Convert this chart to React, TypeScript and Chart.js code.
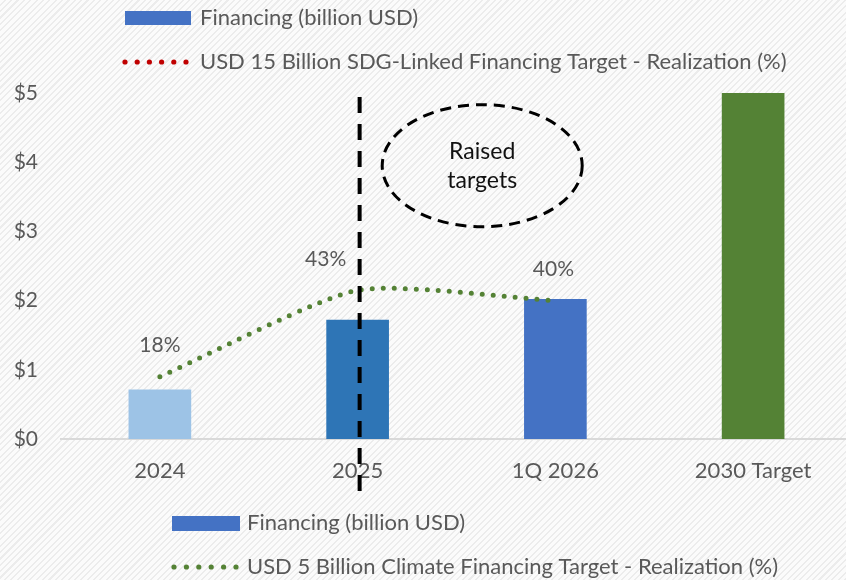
import React, { useEffect, useRef } from "react";
import { Chart, registerables } from "chart.js";

Chart.register(...registerables);

const categories = ["2024", "2025", "1Q 2026", "2030 Target"];
const financing = [0.71, 1.72, 2.02, 5.0];
const barColors = ["#9DC3E6", "#2E75B6", "#4472C4", "#548235"];
const realization = [18, 43, 40];
const realizationLabels = ["18%", "43%", "40%"];
const yTicks = [0, 1, 2, 3, 4, 5];
const legendTop = ["Financing (billion USD)", "USD 15 Billion SDG-Linked Financing Target - Realization (%)"];
const legendBottom = ["Financing (billion USD)", "USD 5 Billion Climate Financing Target - Realization (%)"];
const noteLines = ["Raised", "targets"];

const FONT = "Lato, 'Open Sans', sans-serif";
const TEXT = "#595959";

function dotRow(ctx: CanvasRenderingContext2D, x0: number, x1: number, y: number, color: string) {
  ctx.fillStyle = color;
  const n = 6;
  for (let i = 0; i < n; i++) {
    const x = x0 + ((x1 - x0) * i) / (n - 1);
    ctx.beginPath();
    ctx.arc(x, y, 2.6, 0, Math.PI * 2);
    ctx.fill();
  }
}

const overlayPlugin = {
  id: "overlay",
  afterDatasetsDraw(chart: any) {
    const ctx: CanvasRenderingContext2D = chart.ctx;
    const xs = chart.scales.x;
    const ys = chart.scales.y;
    ctx.save();
    // data labels
    const meta = chart.getDatasetMeta(1);
    const offs = [[0, -31], [-32, -31], [-2, -31]];
    ctx.font = `21px ${FONT}`;
    ctx.fillStyle = TEXT;
    ctx.textAlign = "center";
    ctx.textBaseline = "middle";
    meta.data.forEach((p: any, i: number) => {
      ctx.fillText(realizationLabels[i], p.x + offs[i][0], p.y + offs[i][1]);
    });
    // vertical dashed line at 2025
    const vx = xs.getPixelForValue(1) + 2;
    ctx.strokeStyle = "#000";
    ctx.lineWidth = 4;
    ctx.setLineDash([16, 11]);
    ctx.beginPath();
    ctx.moveTo(vx, 97);
    ctx.lineTo(vx, 494);
    ctx.stroke();
    // ellipse
    const ex = xs.getPixelForValue(1.63);
    const ey = ys.getPixelForValue(3.95);
    ctx.lineWidth = 3;
    ctx.setLineDash([11, 7]);
    ctx.beginPath();
    ctx.ellipse(ex, ey, 100, 61, 0, 0, Math.PI * 2);
    ctx.stroke();
    ctx.setLineDash([]);
    ctx.fillStyle = "#111";
    ctx.font = `23px ${FONT}`;
    ctx.fillText(noteLines[0], ex, ey - 14);
    ctx.fillText(noteLines[1], ex, ey + 15);
    // legends
    ctx.font = `22px ${FONT}`;
    ctx.textAlign = "left";
    ctx.fillStyle = "#4472C4";
    ctx.fillRect(125, 11, 66, 14);
    ctx.fillStyle = TEXT;
    ctx.fillText(legendTop[0], 200, 18);
    dotRow(ctx, 125, 186, 62, "#C00000");
    ctx.fillStyle = TEXT;
    ctx.fillText(legendTop[1], 200, 62);

    ctx.fillStyle = "#4472C4";
    ctx.fillRect(172, 516, 68, 15);
    ctx.fillStyle = TEXT;
    ctx.fillText(legendBottom[0], 247, 523);
    dotRow(ctx, 174, 236, 567, "#548235");
    ctx.fillStyle = TEXT;
    ctx.fillText(legendBottom[1], 247, 567);
    ctx.restore();
  },
};

export default function App() {
  const ref = useRef<HTMLCanvasElement>(null);
  useEffect(() => {
    document.body.style.margin = "0";
    const chart = new Chart(ref.current!, {
      type: "bar",
      data: {
        labels: categories,
        datasets: [
          {
            type: "bar",
            data: financing,
            backgroundColor: barColors,
            barThickness: 62,
            yAxisID: "y",
            order: 2,
          } as any,
          {
            type: "line",
            data: realization,
            borderColor: "#548235",
            borderWidth: 5,
            borderDash: [0, 11],
            borderCapStyle: "round",
            pointRadius: 0,
            tension: 0.2,
            fill: false,
            yAxisID: "y2",
            order: 1,
          } as any,
        ],
      },
      options: {
        animation: false,
        responsive: false,
        layout: { padding: { top: 93, bottom: 91, left: 0, right: 0 } },
        plugins: { legend: { display: false }, tooltip: { enabled: false } },
        scales: {
          x: {
            grid: { display: false, drawTicks: false },
            border: { display: true, color: "#D9D9D9", width: 2 },
            ticks: { color: TEXT, font: { family: FONT, size: 22 }, padding: 19 },
            afterFit(scale: any) {
              scale.height = 50;
            },
          },
          y: {
            min: 0,
            max: 5,
            grid: { display: false, drawTicks: false },
            border: { display: false },
            afterBuildTicks(scale: any) {
              scale.ticks = yTicks.map((v) => ({ value: v }));
            },
            ticks: {
              color: TEXT,
              font: { family: FONT, size: 21 },
              padding: 23,
              callback: (v: any) => "$" + v,
            },
            afterFit(scale: any) {
              scale.width = 61;
            },
          },
          y2: {
            min: 0,
            max: 100,
            display: false,
          },
        },
      },
      plugins: [overlayPlugin],
    } as any);
    return () => chart.destroy();
  }, []);
  return (
    <div
      style={{
        width: 846,
        height: 580,
        overflow: "hidden",
        background:
          "repeating-linear-gradient(135deg, #fbfbfb 0px, #fbfbfb 3px, #ececec 3px, #ececec 4.5px)",
      }}
    >
      <canvas ref={ref} width={852} height={580} style={{ display: "block" }} />
    </div>
  );
}
